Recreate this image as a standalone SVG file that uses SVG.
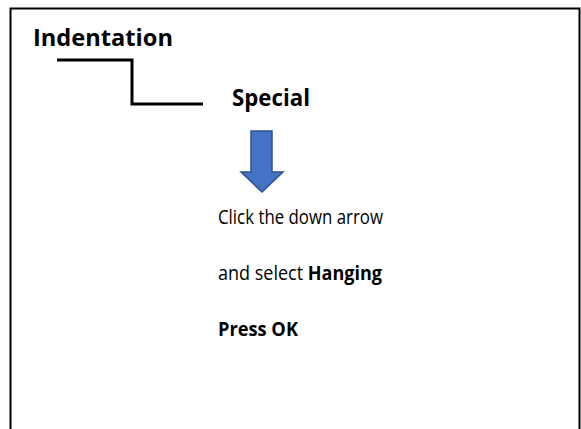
<svg xmlns="http://www.w3.org/2000/svg" width="581" height="429" viewBox="0 0 581 429">
<style>
  .t { font-family: "Open Sans", "Liberation Sans", sans-serif; fill: #000; }
  .b { font-weight: bold; }
  .h { font-size: 23px; }
  .p { font-size: 19.5px; }
  .conn { fill: none; stroke: #000; stroke-width: 3; }
</style>
<rect x="0" y="0" width="581" height="429" fill="#fff"/>
<g id="frame">
  <path d="M10.5,429 V8.5 H579.5 V429" fill="none" stroke="#000" stroke-width="2"/>
</g>
<g id="indentation">
  <text class="t b h" x="33" y="46" textLength="140" lengthAdjust="spacingAndGlyphs">Indentation</text>
</g>
<g id="connectors">
  <path class="conn" d="M57,60 H132 V104 H203"/>
</g>
<g id="special">
  <text class="t b h" x="232" y="106" textLength="78" lengthAdjust="spacingAndGlyphs">Special</text>
</g>
<g id="down-arrow">
  <path d="M251,131 H272 V172 H283 L262,192 L241,172 H251 Z" fill="#4472C4" stroke="#2F528F" stroke-width="1.5"/>
</g>
<g id="instructions">
  <text class="t p" x="218" y="224" textLength="165" lengthAdjust="spacingAndGlyphs">Click the down arrow</text>
  <text class="t p" x="218" y="280" textLength="164" lengthAdjust="spacingAndGlyphs">and select <tspan class="b">Hanging</tspan></text>
  <text class="t p b" x="218" y="336" textLength="80" lengthAdjust="spacingAndGlyphs">Press OK</text>
</g>
</svg>
